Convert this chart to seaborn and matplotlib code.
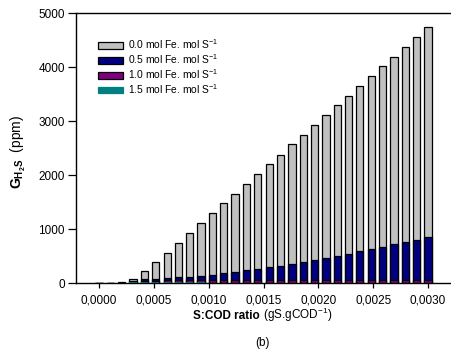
import matplotlib
matplotlib.use("Agg")
import matplotlib.pyplot as plt
from matplotlib.patches import Patch
from matplotlib.ticker import FuncFormatter
import seaborn as sns
import pandas as pd

# S:COD ratio (gS.gCOD-1) at each simulated point
ratio = [0.0, 0.000103, 0.000207, 0.000310, 0.000414, 0.000517, 0.000621,
         0.000724, 0.000828, 0.000931, 0.001034, 0.001138, 0.001241, 0.001345,
         0.001448, 0.001552, 0.001655, 0.001759, 0.001862, 0.001966, 0.002069,
         0.002172, 0.002276, 0.002379, 0.002483, 0.002586, 0.002690, 0.002793,
         0.002897, 0.003000]

# Gaseous H2S (ppm) for each iron dose
fe_00 = [0, 0, 25, 80, 225, 384, 562, 742, 925, 1105, 1290, 1479, 1659, 1844,
         2022, 2202, 2382, 2568, 2746, 2935, 3111, 3294, 3473, 3655, 3838, 4015,
         4196, 4380, 4561, 4741]
fe_05 = [0, 0, 5, 45, 70, 80, 100, 106, 119, 135, 150, 186, 204, 236, 260, 291,
         315, 353, 390, 425, 461, 505, 545, 594, 635, 675, 715, 758, 798, 845]
fe_10 = [0, 0, 2, 25, 40, 45, 50, 52, 55, 55, 55, 55, 55, 55, 55, 55, 55, 55,
         55, 55, 55, 55, 55, 55, 55, 55, 55, 55, 55, 55]
fe_15 = [0, 0, 2, 20, 25, 25, 22, 20, 15, 10, 5, 0, 0, 0, 0, 0, 0, 0, 0, 0, 0,
         0, 0, 0, 0, 0, 0, 0, 0, 0]

series_labels = ["0.0 mol Fe. mol S$^{-1}$", "0.5 mol Fe. mol S$^{-1}$",
                 "1.0 mol Fe. mol S$^{-1}$", "1.5 mol Fe. mol S$^{-1}$"]
colors = ["#c0c0c0", "#000080", "#800080", "#008080"]
edges = ["black", "black", "black", "none"]

sns.set_style("ticks")
plt.rcParams["font.family"] = ["Liberation Sans", "DejaVu Sans"]
plt.rcParams["mathtext.fontset"] = "custom"
plt.rcParams["mathtext.rm"] = "Liberation Sans"
plt.rcParams["mathtext.it"] = "Liberation Sans:italic"
plt.rcParams["mathtext.bf"] = "Liberation Sans:bold"
plt.rcParams["text.color"] = "black"
plt.rcParams["xtick.color"] = "black"
plt.rcParams["ytick.color"] = "black"
plt.rcParams["xtick.labelcolor"] = "black"
plt.rcParams["ytick.labelcolor"] = "black"

fig = plt.figure(figsize=(4.51, 3.51), dpi=100)
ax = fig.add_axes([76 / 451, 1 - 283 / 351, 1 - 76 / 451, (283 - 13.3) / 351])

for values, col, ec in zip([fe_00, fe_05, fe_10, fe_15], colors, edges):
    df = pd.DataFrame({"ratio": ratio, "h2s": values})
    sns.barplot(data=df, x="ratio", y="h2s", native_scale=True, color=col,
                saturation=1, width=0.64, errorbar=None, edgecolor=ec,
                linewidth=0.9 if ec != "none" else 0, ax=ax)

ax.set_xlim(-0.00021, 0.00321)
ax.set_ylim(0, 5000)
ax.set_xticks([0.0, 0.0005, 0.0010, 0.0015, 0.0020, 0.0025, 0.0030])
ax.xaxis.set_major_formatter(FuncFormatter(lambda v, p: f"{v:.4f}".replace(".", ",")))
ax.set_yticks([0, 1000, 2000, 3000, 4000, 5000])
ax.tick_params(axis="y", length=5.5, width=0.9, pad=2.5, labelsize=8.5)
ax.tick_params(axis="x", length=3.5, width=0.9, pad=5, labelsize=8.5)
ax.set_xlabel("")
ax.set_ylabel("")
for s in ["left", "bottom", "top"]:
    ax.spines[s].set_visible(True)
    ax.spines[s].set_linewidth(1.0)
    ax.spines[s].set_color("black")
ax.spines["right"].set_visible(False)

handles = [Patch(facecolor=c, edgecolor=("black" if e != "none" else c), linewidth=0.9)
           for c, e in zip(colors, edges)]
ax.legend(handles, series_labels, loc="upper left", bbox_to_anchor=(0.058, 0.91),
          frameon=False, fontsize=7.4, handlelength=2.45, handleheight=0.6,
          handletextpad=0.45, labelspacing=0.1, borderaxespad=0,
          borderpad=0)

fig.text(18 / 451, 1 - 152 / 351, r"$\mathbf{G_{H_2S}}$  (ppm)", rotation=90,
         ha="center", va="center", fontsize=10)

# x-axis title: bold name followed by regular units, centred as one line
renderer = fig.canvas.get_renderer()
ybase = 1 - 319 / 351
t1 = fig.text(0, ybase, "S:COD ratio", fontweight="bold", fontsize=8.5,
              ha="left", va="baseline")
t2 = fig.text(0, ybase, " (gS.gCOD$^{-1}$)", fontsize=8.5, ha="left", va="baseline")
w1 = t1.get_window_extent(renderer).width / fig.bbox.width
w2 = t2.get_window_extent(renderer).width / fig.bbox.width
x0 = 263 / 451 - (w1 + w2) / 2
t1.set_x(x0)
t2.set_x(x0 + w1)

fig.text(263 / 451, 1 - 343 / 351, "(b)", ha="center", va="center", fontsize=8.5)

fig.savefig("out.png", dpi=100)
